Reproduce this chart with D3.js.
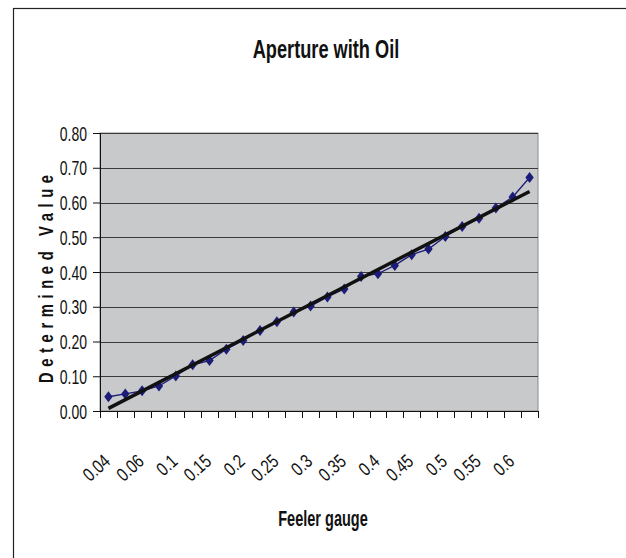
<!DOCTYPE html>
<html><head><meta charset="utf-8">
<script src="https://cdn.jsdelivr.net/npm/d3@7"></script>
<style>
body{margin:0;background:#fff;}
svg{display:block;}
text{font-family:"Liberation Sans",Arial,sans-serif;fill:#111;}
</style></head>
<body>
<svg id="c" width="626" height="558"></svg>
<script>
const categories = ["0.04","0.05","0.06","0.08","0.1","0.13","0.15","0.18","0.2","0.23","0.25","0.28","0.3","0.33","0.35","0.38","0.4","0.43","0.45","0.48","0.5","0.53","0.55","0.58","0.6","0.63"];
const values = [0.041,0.049,0.058,0.072,0.101,0.133,0.145,0.178,0.203,0.232,0.257,0.285,0.302,0.328,0.351,0.387,0.395,0.419,0.450,0.466,0.502,0.531,0.555,0.584,0.616,0.672];
const yTicks = [0,0.1,0.2,0.3,0.4,0.5,0.6,0.7,0.8];
const shownLabels = ["0.04","0.06","0.1","0.15","0.2","0.25","0.3","0.35","0.4","0.45","0.5","0.55","0.6"];
const title = "Aperture with Oil";
const xTitle = "Feeler gauge";
const yTitle = "Determined Value";

const svg = d3.select("#c");
const L = 100, R = 538, T = 133, B = 411;
const x = d3.scaleBand().domain(categories).range([L, R]).padding(0);
const y = d3.scaleLinear().domain([0, 0.8]).range([B, T]);
const SX = 0.7; // condensed look

// outer chart frame
svg.append("rect").attr("x", 13.5).attr("y", 8.5).attr("width", 800).attr("height", 800)
  .attr("fill", "#fff").attr("stroke", "#222").attr("stroke-width", 1.2);

// plot area
svg.append("rect").attr("x", L).attr("y", T).attr("width", R - L).attr("height", B - T)
  .attr("fill", "#c8c9cb").attr("stroke", "#8a8a8a").attr("stroke-width", 1);

// gridlines
svg.append("g").selectAll("line").data(yTicks.filter(d => d > 0)).join("line")
  .attr("x1", L).attr("x2", R).attr("y1", d => Math.round(y(d)) + 0.5).attr("y2", d => Math.round(y(d)) + 0.5)
  .attr("stroke", "#3a3a3a").attr("stroke-width", 1);

// y axis
const yAxis = d3.axisLeft(y).tickValues(yTicks).tickFormat(d3.format(".2f")).tickSize(7).tickPadding(6);
const gy = svg.append("g").attr("transform", `translate(${L},0)`).call(yAxis);
gy.select(".domain").attr("stroke", "#111");
gy.selectAll(".tick line").attr("stroke", "#111");
gy.selectAll(".tick text").attr("font-size", 20).attr("fill", "#111")
  .attr("x", null).attr("dy", "0.36em")
  .attr("transform", `translate(-13,0) scale(${SX},1)`)
  .style("font-family", '"Liberation Sans",Arial,sans-serif');

// x axis
const xAxis = d3.axisBottom(x).tickValues([]).tickSizeOuter(0);
const gx = svg.append("g").attr("transform", `translate(0,${B})`).call(xAxis);
gx.select(".domain").attr("stroke", "#111");
const bounds = categories.map(c => x(c)).concat([R]);
gx.selectAll(".bt").data(bounds).join("line").attr("class", "bt")
  .attr("x1", d => Math.round(d) + 0.5).attr("x2", d => Math.round(d) + 0.5)
  .attr("y1", 0).attr("y2", 7).attr("stroke", "#111");

// x labels
svg.append("g").selectAll("text").data(shownLabels).join("text")
  .attr("transform", d => `translate(${x(d) + x.bandwidth() / 2 + 3},${B + 52}) rotate(-42) scale(0.78,1)`)
  .attr("text-anchor", "end").attr("font-size", 19).text(d => d);

// trend line (least squares over category index)
const n = values.length;
const xs = d3.range(n);
const mx = d3.mean(xs), my = d3.mean(values);
const slope = d3.sum(xs, i => (i - mx) * (values[i] - my)) / d3.sum(xs, i => (i - mx) * (i - mx));
const icpt = my - slope * mx;
const cx = i => x(categories[i]) + x.bandwidth() / 2;

// series line
svg.append("path").datum(values)
  .attr("d", d3.line().x((d, i) => cx(i)).y(d => y(d)))
  .attr("fill", "none").attr("stroke", "#1c1c78").attr("stroke-width", 1.3);

// markers
svg.append("g").selectAll("path").data(values).join("path")
  .attr("d", (d, i) => { const px = cx(i), py = y(d); return `M${px},${py - 5.5}L${px + 4.2},${py}L${px},${py + 5.5}L${px - 4.2},${py}Z`; })
  .attr("fill", "#1c1c78");

svg.append("line")
  .attr("x1", cx(0)).attr("y1", y(icpt))
  .attr("x2", cx(n - 1)).attr("y2", y(icpt + slope * (n - 1)))
  .attr("stroke", "#111").attr("stroke-width", 3.5);

// titles
svg.append("text").attr("transform", `translate(326,58) scale(${SX},1)`).attr("text-anchor", "middle")
  .attr("font-size", 26).attr("font-weight", "bold").text(title);
svg.append("text").attr("transform", `translate(323,526) scale(0.66,1)`).attr("text-anchor", "middle")
  .attr("font-size", 22).attr("font-weight", "bold").text(xTitle);
svg.append("text").attr("transform", `translate(53,279) rotate(-90) scale(${SX},1)`).attr("text-anchor", "middle")
  .attr("font-size", 21).attr("font-weight", "bold")
  .attr("textLength", 208 / SX).attr("lengthAdjust", "spacing").text(yTitle);
</script>
</body></html>
